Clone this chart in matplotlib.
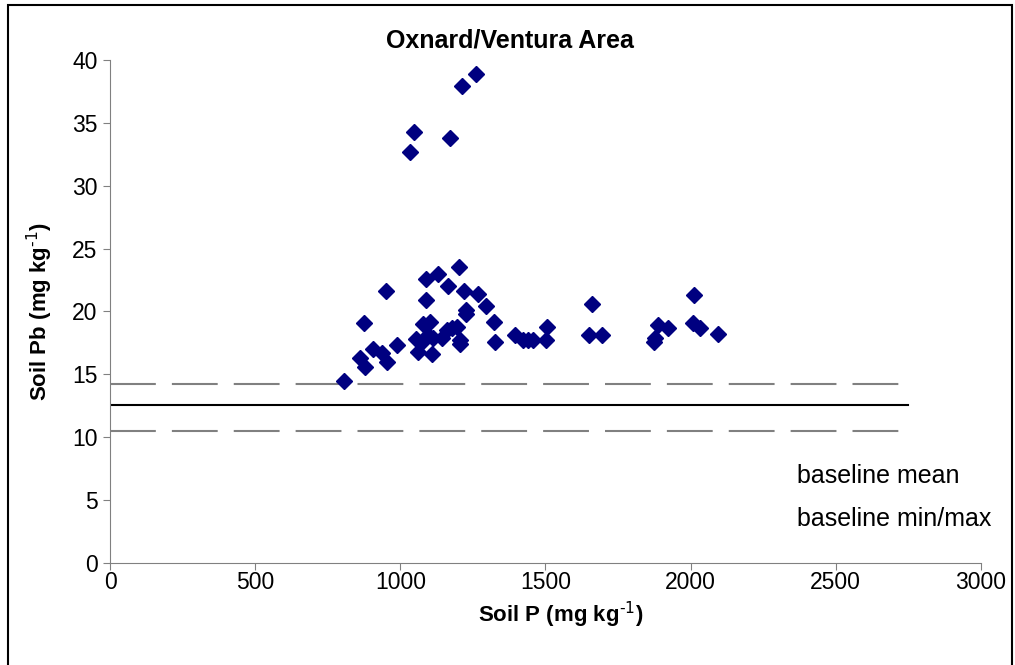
import matplotlib.pyplot as plt
from matplotlib.patches import Rectangle

plt.rcParams['font.family'] = ['Liberation Sans', 'DejaVu Sans']
plt.rcParams['mathtext.default'] = 'regular'

# soil P (mg/kg) vs soil Pb (mg/kg)
soil_p = [805, 860, 875, 880, 905, 936, 955, 950, 990,
          1032, 1046, 1170, 1211, 1260,
          1088, 1129, 1203, 1163, 1219, 1266, 1088, 1294, 1226, 1226, 1323,
          1079, 1102, 1054, 1074, 1096, 1114, 1142, 1160, 1177, 1194,
          1205, 1205, 1062, 1108, 1326, 1395, 1424, 1441, 1456, 1501, 1504,
          1659, 1651, 1696, 1886, 1923, 1877, 1875, 2011, 2009, 2032, 2095]
soil_pb = [14.5, 16.3, 19.1, 15.6, 17.0, 16.7, 16.0, 21.6, 17.3,
           32.7, 34.3, 33.8, 37.9, 38.9,
           22.6, 23.0, 23.5, 22.0, 21.6, 21.4, 20.9, 20.4, 20.1, 19.8, 19.2,
           19.0, 19.2, 17.8, 17.6, 18.1, 17.9, 17.9, 18.5, 18.7, 18.8,
           17.7, 17.4, 16.8, 16.6, 17.6, 18.1, 17.7, 17.7, 17.7, 17.7, 18.8,
           20.6, 18.1, 18.1, 18.9, 18.7, 17.9, 17.6, 21.3, 19.1, 18.7, 18.2]

line_x = [0, 2750]
baseline_mean = 12.6
baseline_min = 10.5
baseline_max = 14.2

fig = plt.figure(figsize=(10.15, 6.65), dpi=100)
ax = fig.add_axes([0.1084, 0.1534, 0.858, 0.7564])

ax.plot(line_x, [baseline_max] * 2, color='#808080', lw=1.5, ls=(0, (22, 7.7)))
ax.plot(line_x, [baseline_mean] * 2, color='black', lw=1.5)
ax.plot(line_x, [baseline_min] * 2, color='#808080', lw=1.5, ls=(0, (22, 7.7)))
ax.plot(soil_p, soil_pb, 'D', color='#000080', ms=8, mec='#000080')

ax.set_xlim(0, 3000)
ax.set_ylim(0, 40)
ax.set_xticks(range(0, 3001, 500))
ax.set_yticks(range(0, 41, 5))
for s in ['top', 'right']:
    ax.spines[s].set_visible(False)
for s in ['left', 'bottom']:
    ax.spines[s].set_color('#808080')
ax.tick_params(direction='out', length=5, color='#808080', labelsize=16.5)
ax.tick_params(axis='x', pad=1)
ax.tick_params(axis='y', pad=4)

ax.set_xlabel('Soil P (mg kg$^{\\text{-1}}$)', fontsize=16, fontweight='bold', labelpad=1)
ax.xaxis.set_label_coords(0.517, -0.073)
ax.set_ylabel('Soil Pb (mg kg$^{\\text{-1}}$)', fontsize=16, fontweight='bold', labelpad=12)
fig.text(510 / 1015, 1 - 40 / 665, 'Oxnard/Ventura Area', fontsize=18,
         fontweight='bold', ha='center', va='center')

ax.text(2365, 6.9, 'baseline mean', fontsize=18, va='center')
ax.text(2365, 3.5, 'baseline min/max', fontsize=18, va='center')

fig.patches.append(Rectangle((8 / 1015, -0.01), 1004 / 1015, 1 - 5 / 665 + 0.01,
                             transform=fig.transFigure, fill=False,
                             edgecolor='black', lw=1.5))

fig.savefig('out.png', dpi=100)
